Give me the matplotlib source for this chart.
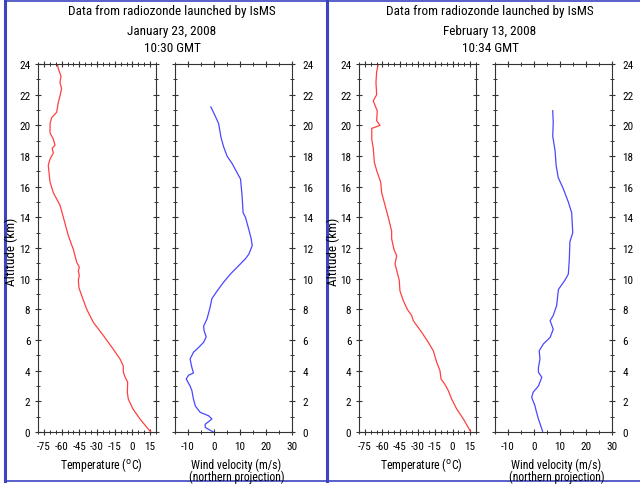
import numpy as np
import matplotlib
matplotlib.use("Agg")
import matplotlib.pyplot as plt
from matplotlib.ticker import MultipleLocator
from matplotlib.lines import Line2D

FONT = ['Roboto Condensed', 'Liberation Sans Narrow', 'Liberation Sans', 'DejaVu Sans']
plt.rcParams['font.family'] = FONT
plt.rcParams['axes.unicode_minus'] = False

# sounding of January 23, 2008 10:30 GMT
jan_temp_alt = [0, 0.85, 1.5, 2.15, 2.6, 3.24, 3.6, 3.9, 4.3, 4.76, 5.4, 6.3, 7.15, 8.0, 8.9,
                9.4, 9.9, 10.2, 10.5, 10.75, 11.07, 11.9, 12.8, 14.0, 14.8, 15.6, 16.3, 17.4,
                17.8, 18.2, 18.5, 18.7, 19.1, 19.5, 20.1, 20.5, 20.85, 21.5, 21.9, 22.4, 22.8,
                23.2, 23.7, 24.0]
jan_temp = [15.5, 6.4, 0.5, -3.5, -4.3, -4, -6.3, -7.7, -7.7, -10.5, -16.2, -24.7, -33.1, -38.7,
            -43, -45.3, -45.8, -45, -45.8, -45, -47.2, -50, -54.3, -58.5, -61.4, -67, -69.8,
            -71.3, -69.8, -67, -68, -65.6, -67, -69.8, -69.8, -68.4, -64.2, -62.8, -61.4, -60,
            -61.4, -60.5, -62.8, -63.6]
jan_wind_alt = [0, 0.3, 0.5, 0.85, 1.06, 1.28, 1.7, 2.15, 2.5, 2.7, 3.0, 3.46, 3.7, 3.85, 4.2,
                4.76, 5.2, 5.5, 5.85, 6.2, 6.6, 6.9, 7.37, 8.0, 8.7, 9.2, 9.77, 10.3, 10.85,
                11.3, 11.6, 12.15, 12.6, 13.2, 14.0, 14.3, 15.4, 16.5, 16.9, 17.5, 18.0, 18.6,
                19.2, 20.1, 20.6, 21.2]
jan_wind = [-0.3, -3.4, -3.4, -0.8, -2.1, -5.3, -7.2, -7.9, -8.3, -8.5, -9.2, -10.7, -9.8, -7.9,
            -8.5, -9.2, -7.9, -6.0, -4.0, -3.0, -3.8, -4.0, -2.7, -1.7, -0.8, 1.2, 3.7, 6.3,
            9.5, 12.1, 13.4, 14.7, 14.3, 13.4, 12.1, 11.2, 10.8, 10.2, 8.9, 7.0, 5.0, 3.7, 2.7,
            1.8, 0.5, -1.2]

# sounding of February 13, 2008 10:34 GMT
feb_temp_alt = [0.05, 0.85, 1.5, 2.15, 2.7, 3.1, 3.46, 4.0, 4.55, 5.3, 5.85, 6.5, 7.26, 7.6, 8.0,
                8.56, 9.2, 9.9, 10.4, 10.96, 11.5, 11.9, 12.6, 13.1, 14.0, 14.8, 15.6, 16.3,
                17.05, 17.6, 18.5, 19.1, 19.8, 20.0, 20.3, 20.95, 21.3, 21.6, 22.0, 22.8, 23.5,
                24.0]
feb_temp = [15.2, 9.2, 3.5, -0.8, -3.7, -6.5, -9.9, -10.8, -13.6, -16.5, -20.8, -26.4, -33.6,
            -35, -38.7, -42.1, -45, -45.6, -47.3, -49.2, -47.8, -50.1, -52.1, -52.1, -55, -57.8,
            -60.6, -61.5, -64.9, -66.9, -67.8, -69.1, -69.1, -62, -64.9, -64.4, -66.3, -67.8,
            -64.9, -65.5, -64.9, -63.5]
feb_wind_alt = [0.05, 0.85, 1.4, 1.7, 2.26, 2.6, 3.0, 3.57, 3.9, 4.2, 4.76, 5.3, 5.74, 6.17, 6.7,
                7.26, 7.6, 8.24, 8.7, 9.3, 9.9, 10.3, 11.3, 12.4, 13.0, 14.3, 15.0, 15.85, 16.6,
                17.4, 18.35, 19.3, 20.2, 20.95]
feb_wind = [3.3, 1.7, 0.8, 0.4, -0.9, -0.3, 1.7, 3.0, 1.7, 1.7, 2.3, 2.0, 3.6, 6.2, 7.4, 6.2,
            7.4, 8.7, 9.0, 9.4, 11.9, 13.2, 13.6, 13.8, 14.9, 14.5, 13.2, 11.3, 9.3, 8.5, 8.1,
            7.2, 7.4, 7.2]

panels = [
    (["Data from radiozonde launched by IsMS", "January 23, 2008", "10:30 GMT"],
     jan_temp_alt, jan_temp, jan_wind_alt, jan_wind),
    (["Data from radiozonde launched by IsMS", "February 13, 2008", "10:34 GMT"],
     feb_temp_alt, feb_temp, feb_wind_alt, feb_wind),
]

W, H = 640, 485
fig = plt.figure(figsize=(6.4, 4.85), dpi=100)
fig.patch.set_facecolor('white')

def fx(px):
    return px / W

def fy(py):
    return 1 - py / H

BLUE_FRAME = '#3c44c0'
TICK_FS = 8
LABEL_FS = 8.5


def style_axes(ax):
    for s in ax.spines.values():
        s.set_linewidth(0.8)
        s.set_color('#333333')
    ax.set_ylim(0, 24)
    ax.yaxis.set_major_locator(MultipleLocator(2))
    ax.yaxis.set_minor_locator(MultipleLocator(1))
    ax.tick_params(which='both', direction='inout', top=True, bottom=True,
                   left=True, right=True, colors='#333333', labelsize=TICK_FS,
                   labelcolor='black')
    ax.tick_params(which='major', length=5, width=0.8)
    ax.tick_params(which='minor', length=3, width=0.7)
    ax.tick_params(axis='x', pad=4)


# axes boxes in pixels: left, right
boxes = [((38, 156), (175, 292)), ((359, 476), (495, 612))]
top_px, bot_px = 65, 433
title_x = [172, 490]
ylabel_x = [11, 333]

for (titles, t_alt, t_val, w_alt, w_val), (tb, wb), tx, lx in zip(panels, boxes, title_x, ylabel_x):
    axT = fig.add_axes([fx(tb[0]), fy(bot_px), fx(tb[1] - tb[0]), (bot_px - top_px) / H])
    axW = fig.add_axes([fx(wb[0]), fy(bot_px), fx(wb[1] - wb[0]), (bot_px - top_px) / H])

    axT.plot(t_val, t_alt, color='#ff4040', lw=0.9)
    axT.set_xlim(-80, 20)
    axT.set_xticks([-75, -60, -45, -30, -15, 0, 15])
    axT.xaxis.set_minor_locator(MultipleLocator(5))
    style_axes(axT)
    axT.tick_params(axis='y', labelleft=True, labelright=False, pad=3)

    axW.plot(w_val, w_alt, color='#4848ff', lw=0.9)
    axW.set_xlim(-15, 30)
    axW.set_xticks([-10, 0, 10, 20, 30])
    axW.xaxis.set_minor_locator(MultipleLocator(5))
    style_axes(axW)
    axW.tick_params(axis='y', labelleft=False, labelright=True, pad=5)

    # axis captions under each box
    fig.text(fx(sum(tb) / 2 + 4), fy(465), r'Temperature ($^{\mathrm{o}}$C)',
             ha='center', va='center', fontsize=LABEL_FS)
    fig.text(fx(sum(wb) / 2 + 3), fy(465), 'Wind velocity (m/s)',
             ha='center', va='center', fontsize=LABEL_FS)
    fig.text(fx(sum(wb) / 2 + 3), fy(477), '(northern projection)',
             ha='center', va='center', fontsize=LABEL_FS)

    for line, py in zip(titles, [12, 31, 49]):
        fig.text(fx(tx), fy(py), line, ha='center', va='center', fontsize=9.5)
    fig.text(fx(lx), fy(252), 'Altitude (km)', rotation=90, ha='center', va='center',
             fontsize=9.5)

# blue frames around the two panels
fig.add_artist(Line2D([fx(5), fx(5)], [fy(2), fy(482)], color=BLUE_FRAME, lw=2.2))
fig.add_artist(Line2D([fx(327), fx(327)], [fy(2), fy(482)], color=BLUE_FRAME, lw=2.2))
fig.add_artist(Line2D([fx(5), fx(640)], [fy(2), fy(2)], color=BLUE_FRAME, lw=1.2))
fig.add_artist(Line2D([fx(5), fx(640)], [fy(482), fy(482)], color=BLUE_FRAME, lw=1.2))

fig.savefig('out.png', dpi=100)
